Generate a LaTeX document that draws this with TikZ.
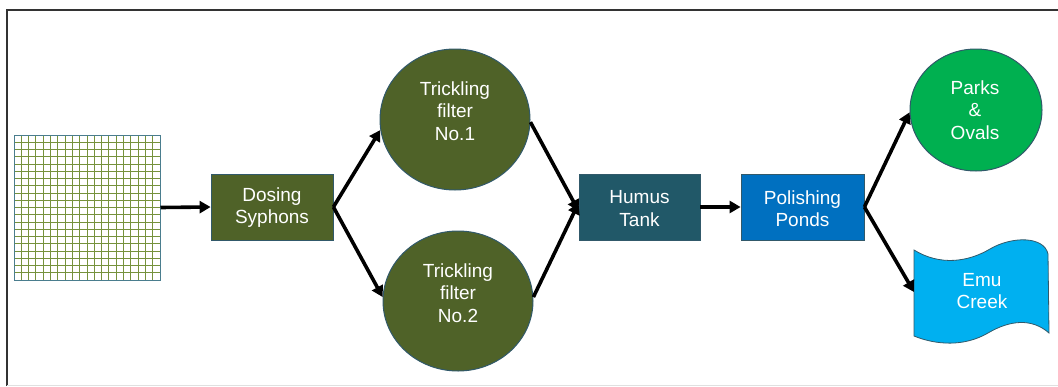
\documentclass[tikz,border=0pt]{standalone}
\usepackage{fontspec}
\setmainfont{Liberation Sans}
\usetikzlibrary{shapes.geometric,arrows.meta}
\definecolor{olivebox}{HTML}{4F6228}
\definecolor{tealbox}{HTML}{215868}
\definecolor{bluebox}{HTML}{0070C0}
\definecolor{greenbox}{HTML}{00B050}
\definecolor{cyanbox}{HTML}{00B0F0}
\definecolor{edgeteal}{HTML}{31596A}
\definecolor{gridgreen}{HTML}{76923C}
\definecolor{gridedge}{HTML}{4A7D8E}
\tikzset{
  lbl/.style={text=white,font=\fontsize{19}{22.5}\selectfont,align=center,inner sep=0pt},
  procbox/.style={draw=edgeteal,line width=0.8pt,minimum width=122pt,minimum height=66pt,inner sep=0pt},
  filterell/.style={ellipse,draw=edgeteal,line width=1pt,fill=olivebox,minimum width=150pt,minimum height=141pt,inner sep=0pt},
  flow/.style={line width=3.6pt,-{Triangle[length=11pt,width=12pt]},black},
}
\begin{document}
\begin{tikzpicture}[x=1pt,y=-1pt]
\useasboundingbox (0,0) rectangle (1058,386);
% frame
\draw[line width=1.6pt,black!80] (7,386) -- (7,10) -- (1058,10);
\draw[line width=0.6pt,black!12] (7,385) -- (1058,385);
% grid square
\node[draw=gridedge,line width=1pt,fill=white,minimum width=146pt,minimum height=145pt,inner sep=0pt] (grid) at (87,207.5) {};
\foreach \i in {1,...,19}{
  \draw[gridgreen,line width=0.9pt] (14+\i*7.3,135.5) -- (14+\i*7.3,279.5);
  \draw[gridgreen,line width=0.9pt] (14.5,135+\i*7.25) -- (159.5,135+\i*7.25);
}
\draw[gridedge,line width=1pt] (14,135) rectangle (160,280);
% boxes
\node[procbox,fill=olivebox] (dose) at (272,207) {};
\node[lbl] (doset) at (272,207.5) {Dosing\\Syphons};
\node[procbox,fill=tealbox,minimum width=121pt] (humus) at (639.5,207) {};
\node[lbl] (humust) at (639.5,208.5) {Humus\\Tank};
\node[procbox,fill=bluebox,minimum width=123pt] (pol) at (802.5,207) {};
\node[lbl] (polt) at (802.5,208.5) {Polishing\\Ponds};
% filters
\node[filterell] (tf1) at (455,119.5) {};
\node[lbl] (tf1t) at (455,111) {Trickling\\filter\\No.1};
\node[filterell,minimum height=140pt] (tf2) at (458,301) {};
\node[lbl] (tf2t) at (458,293) {Trickling\\filter\\No.2};
% parks
\node[ellipse,draw=edgeteal,line width=1pt,fill=greenbox,minimum width=132pt,minimum height=122pt,inner sep=0pt] (parks) at (976,110) {};
\node[lbl] (parkst) at (975,110) {Parks\\\&\\Ovals};
% emu creek tape shape
\draw[draw=edgeteal,line width=0.8pt,fill=cyanbox]
  (914,250) .. controls (940,266) and (968,262) .. (990,249)
  .. controls (1012,236) and (1044,236) .. (1048,254)
  -- (1049,333)
  .. controls (1032,318) and (1010,320) .. (988,333)
  .. controls (964,347) and (936,345) .. (914,336) -- cycle;
\coordinate (emuL) at (914,292);
\node[lbl] (emut) at (982,291) {Emu\\Creek};
% connectors
\draw[flow] (grid.east) -- (dose.west);
\draw[flow] (dose.east) -- (tf1.188);
\draw[flow] (dose.east) -- (tf2.177);
\draw[flow] (tf1.358) -- ([yshift=-4pt]humus.west);
\draw[flow] (tf2.3) -- ([yshift=4pt]humus.west);
\draw[flow] (humus.east) -- (pol.west);
\draw[flow] (pol.east) -- (parks.182);
\draw[flow] (pol.east) -- (emuL);
\end{tikzpicture}
\end{document}
